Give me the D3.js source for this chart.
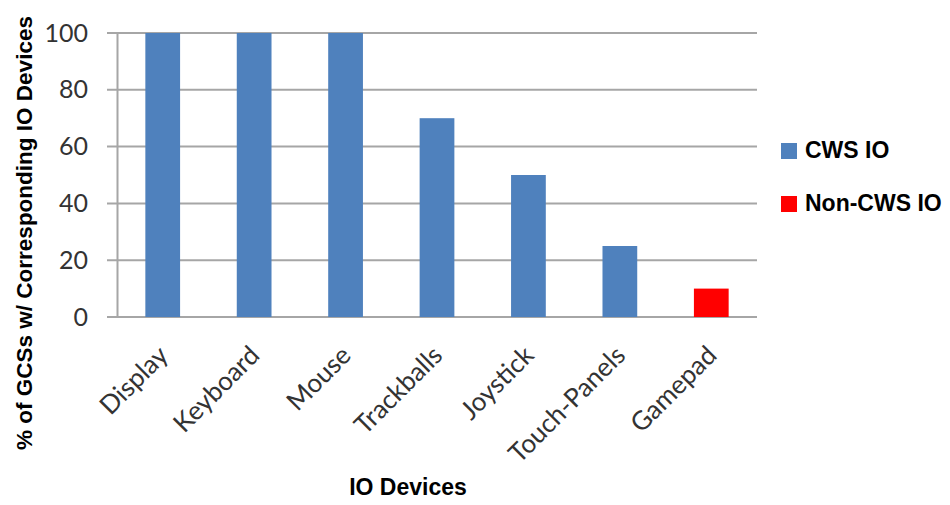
<!doctype html>
<html>
<head>
<meta charset="utf-8" />
<title>IO Devices</title>
<script src="https://cdn.jsdelivr.net/npm/d3@7"></script>
<style>
	body { margin: 0; background: #fff; }
	svg { display: block; background: #fff; }
	.tick-label { font-family: Lato, "Open Sans", sans-serif; fill: #333; }
	.title { font-family: "Liberation Sans", Arial, sans-serif; font-weight: bold; fill: #000; }
</style>
</head>
<body>
<div id="app"></div>
<script>
// data
const categories = ['Display', 'Keyboard', 'Mouse', 'Trackballs', 'Joystick', 'Touch-Panels', 'Gamepad'];
const values = [100, 100, 100, 70, 50, 25, 10];
const groups = ['CWS IO', 'CWS IO', 'CWS IO', 'CWS IO', 'CWS IO', 'CWS IO', 'Non-CWS IO'];
const yTicks = [0, 20, 40, 60, 80, 100];
const legendItems = ['CWS IO', 'Non-CWS IO'];

const width = 950, height = 505;
const plot = { left: 117, right: 757, top: 33, bottom: 317 };

const svg = d3.select('#app').append('svg')
	.attr('width', width)
	.attr('height', height);

const x = d3.scaleBand()
	.domain(categories)
	.range([plot.left, plot.right])
	.paddingInner(0.62)
	.paddingOuter(0.31);

const y = d3.scaleLinear()
	.domain([0, 100])
	.range([plot.bottom, plot.top]);

const color = d3.scaleOrdinal()
	.domain(legendItems)
	.range(['#4f81bd', '#ff0000']);

// gridlines (the 0 line doubles as the category axis)
svg.append('g').selectAll('line')
	.data(yTicks)
	.join('line')
	.attr('x1', plot.left - 10)
	.attr('x2', plot.right)
	.attr('y1', d => y(d))
	.attr('y2', d => y(d))
	.attr('stroke', '#a6a6a6')
	.attr('stroke-width', 2);

// value axis
const yAxis = svg.append('g')
	.attr('transform', `translate(${plot.left},0)`)
	.call(d3.axisLeft(y).tickValues(yTicks).tickSize(0).tickPadding(29));
yAxis.select('.domain').attr('stroke', '#a6a6a6').attr('stroke-width', 2);
yAxis.selectAll('text')
	.attr('class', 'tick-label')
	.style('font-size', '25px');

// bars
svg.append('g').selectAll('rect')
	.data(categories)
	.join('rect')
	.attr('x', d => x(d))
	.attr('width', x.bandwidth())
	.attr('y', (d, i) => y(values[i]))
	.attr('height', (d, i) => y(0) - y(values[i]))
	.attr('fill', (d, i) => color(groups[i]));

// rotated category labels
svg.append('g').selectAll('text')
	.data(categories)
	.join('text')
	.attr('class', 'tick-label')
	.attr('text-anchor', 'end')
	.style('font-size', '26px')
	.attr('transform', d => `translate(${x(d) + x.bandwidth() / 2 + 7},357) rotate(-45)`)
	.text(d => d);

// axis titles
svg.append('text')
	.attr('class', 'title')
	.attr('text-anchor', 'middle')
	.attr('x', 408)
	.attr('y', 495)
	.style('font-size', '23px')
	.text('IO Devices');

svg.append('text')
	.attr('class', 'title')
	.attr('text-anchor', 'middle')
	.attr('transform', 'translate(32,233) rotate(-90)')
	.style('font-size', '22.5px')
	.text('% of GCSs w/ Corresponding IO Devices');

// legend
const legend = svg.append('g').selectAll('g')
	.data(legendItems)
	.join('g')
	.attr('transform', (d, i) => `translate(781,${143 + i * 53})`);
legend.append('rect')
	.attr('width', 16)
	.attr('height', 16)
	.attr('fill', d => color(d));
legend.append('text')
	.attr('class', 'title')
	.attr('x', 24)
	.attr('y', 15)
	.style('font-size', '23px')
	.text(d => d);
</script>
</body>
</html>
